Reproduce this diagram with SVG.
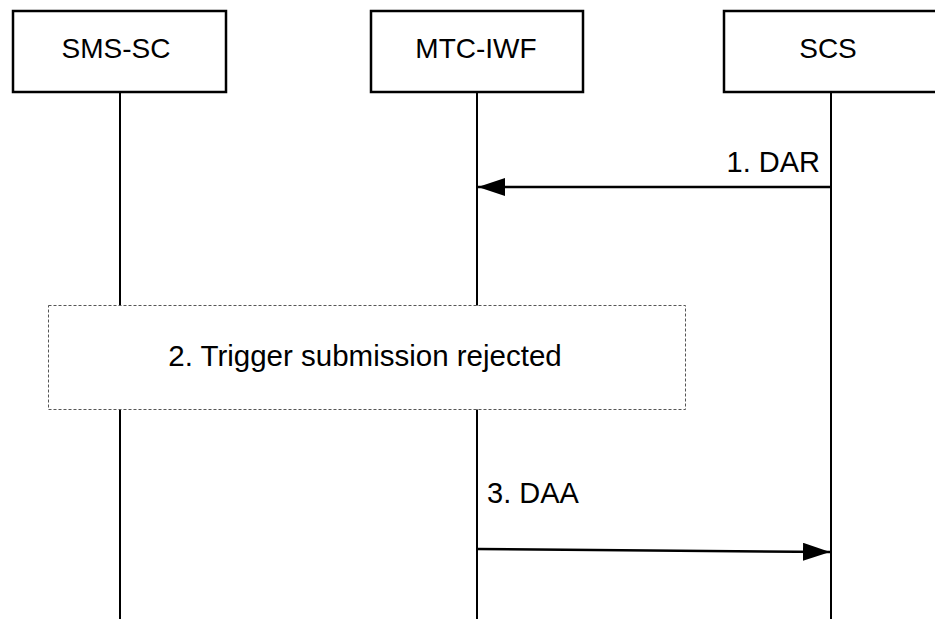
<svg xmlns="http://www.w3.org/2000/svg" width="935" height="619" viewBox="0 0 935 619">
<style>
.box{fill:#fff;stroke:#000;stroke-width:2.5}
.life{stroke:#000;stroke-width:2;fill:none}
.msg{stroke:#000;stroke-width:2.5;fill:none}
.t{font-family:"Liberation Sans",Arial,sans-serif;font-size:28px;fill:#000}
.note{fill:#fff;stroke:#555;stroke-width:1;stroke-dasharray:3,2}
</style>
<defs>
<marker id="ah" markerWidth="27" markerHeight="18" refX="27" refY="9" orient="auto" markerUnits="userSpaceOnUse">
<path d="M0,0 L27,9 L0,18 Z" fill="#000"/>
</marker>
</defs>
<g id="lifelines">
<line class="life" x1="120" y1="92" x2="120" y2="619"/>
<line class="life" x1="477" y1="92" x2="477" y2="619"/>
<line class="life" x1="831" y1="92" x2="831" y2="619"/>
</g>
<g id="sms-sc">
<rect class="box" x="13" y="11" width="213" height="81"/>
<text class="t" x="116" y="58" text-anchor="middle">SMS-SC</text>
</g>
<g id="mtc-iwf">
<rect class="box" x="371" y="11" width="212" height="81"/>
<text class="t" x="476" y="58" text-anchor="middle">MTC-IWF</text>
</g>
<g id="scs">
<rect class="box" x="724" y="11" width="213" height="81"/>
<text class="t" x="828" y="58" text-anchor="middle">SCS</text>
</g>
<g id="step2">
<rect class="note" x="48.5" y="305.5" width="637" height="104"/>
<text class="t" x="365" y="366" text-anchor="middle" style="font-size:29.5px">2. Trigger submission rejected</text>
</g>
<g id="connectors">
<line class="msg" x1="831" y1="187" x2="478" y2="187" marker-end="url(#ah)"/>
<text class="t" x="820" y="172" text-anchor="end" style="font-size:29px">1. DAR</text>
<line class="msg" x1="477" y1="549" x2="830" y2="552" marker-end="url(#ah)"/>
<text class="t" x="487" y="503" style="font-size:29px">3. DAA</text>
</g>
</svg>
